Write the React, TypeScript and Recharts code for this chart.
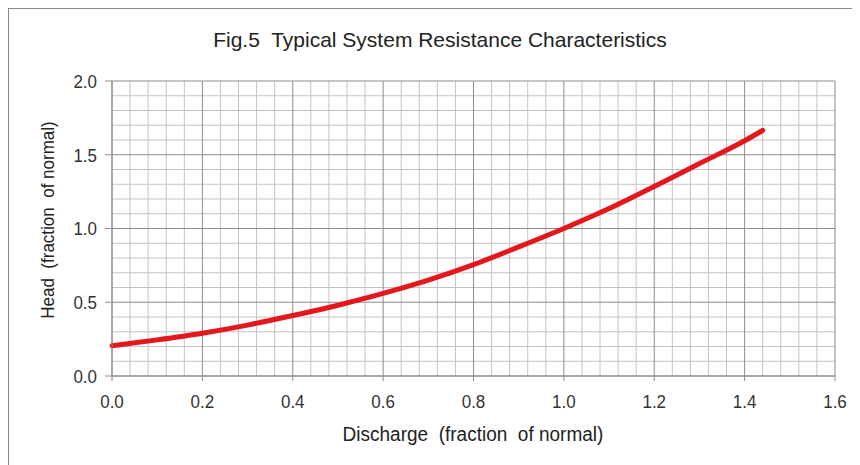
import React from "react";
import { LineChart, Line, XAxis, YAxis, ReferenceLine } from "recharts";

const discharge = [0, 0.1, 0.2, 0.3, 0.4, 0.5, 0.6, 0.7, 0.8, 0.9, 1.0, 1.1, 1.2, 1.3, 1.4, 1.44];
const head = [0.205, 0.245, 0.29, 0.345, 0.41, 0.48, 0.56, 0.65, 0.755, 0.875, 1.0, 1.135, 1.285, 1.44, 1.595, 1.665];

const xTicks = [0, 0.2, 0.4, 0.6, 0.8, 1.0, 1.2, 1.4, 1.6];
const yTicks = [0, 0.5, 1.0, 1.5, 2.0];
const xMinor = [
  0.04, 0.08, 0.12, 0.16, 0.24, 0.28, 0.32, 0.36, 0.44, 0.48, 0.52, 0.56,
  0.64, 0.68, 0.72, 0.76, 0.84, 0.88, 0.92, 0.96, 1.04, 1.08, 1.12, 1.16,
  1.24, 1.28, 1.32, 1.36, 1.44, 1.48, 1.52, 1.56,
];
const yMinor = [0.1, 0.2, 0.3, 0.4, 0.6, 0.7, 0.8, 0.9, 1.1, 1.2, 1.3, 1.4, 1.6, 1.7, 1.8, 1.9];

const title = "Fig.5  Typical System Resistance Characteristics";
const xLabel = "Discharge  (fraction  of normal)";
const yLabel = "Head  (fraction  of normal)";

const data = discharge.map((q, i) => ({ q, h: head[i] }));

const FONT = "'Liberation Sans', Arial, sans-serif";
const MINOR = "#c4c4c4";
const MAJOR = "#8c8c8c";
const SY = 1.12;

function XTick(props: any) {
  const { x, y, payload } = props;
  return (
    <g transform={`translate(${x},${y}) scale(1,${SY})`}>
      <text x={0} y={0} dy="0.71em" textAnchor="middle" fill="#333" fontSize={17} fontFamily={FONT}>
        {Number(payload.value).toFixed(1)}
      </text>
    </g>
  );
}

function YTick(props: any) {
  const { x, y, payload } = props;
  return (
    <g transform={`translate(${x},${y}) scale(1,${SY})`}>
      <text x={0} y={0} dy="0.355em" textAnchor="end" fill="#333" fontSize={17} fontFamily={FONT}>
        {Number(payload.value).toFixed(1)}
      </text>
    </g>
  );
}

export default function App() {
  return (
    <div style={{ position: "relative", width: 852, height: 457, fontFamily: FONT, background: "#fff" }}>
      <div
        style={{
          position: "absolute",
          left: 0,
          top: 0,
          width: 852,
          height: 457,
          borderTop: "1px solid #8a8a8a",
          borderLeft: "1px solid #8a8a8a",
          boxSizing: "border-box",
          pointerEvents: "none",
        }}
      />
      <div
        style={{
          position: "absolute",
          left: 0,
          width: 864,
          top: 20,
          textAlign: "center",
          fontSize: 21,
          color: "#222",
          whiteSpace: "pre",
          lineHeight: "24px",
        }}
      >
        {title}
      </div>
      <LineChart
        width={852}
        height={457}
        data={data}
        margin={{ top: 73, right: 25, bottom: 49, left: 0 }}
      >
        {xMinor.map((v) => (
          <ReferenceLine key={"xm" + v} x={v} stroke={MINOR} strokeWidth={1} />
        ))}
        {yMinor.map((v) => (
          <ReferenceLine key={"ym" + v} y={v} stroke={MINOR} strokeWidth={1} />
        ))}
        {xTicks.map((v) => (
          <ReferenceLine key={"xM" + v} x={v} stroke={MAJOR} strokeWidth={1} />
        ))}
        {yTicks.map((v) => (
          <ReferenceLine key={"yM" + v} y={v} stroke={MAJOR} strokeWidth={1} />
        ))}
        <XAxis
          dataKey="q"
          type="number"
          domain={[0, 1.6]}
          ticks={xTicks}
          interval={0}
          height={40}
          tickSize={5}
          tickMargin={13}
          axisLine={{ stroke: MAJOR }}
          tickLine={{ stroke: MAJOR }}
          tick={<XTick />}
        />
        <YAxis
          type="number"
          domain={[0, 2]}
          ticks={yTicks}
          interval={0}
          width={104}
          tickSize={7}
          tickMargin={8}
          axisLine={{ stroke: MAJOR }}
          tickLine={{ stroke: MAJOR }}
          tick={<YTick />}
        />
        <Line
          type="monotone"
          dataKey="h"
          stroke="#e3171c"
          strokeWidth={5}
          strokeLinecap="round"
          dot={false}
          activeDot={false}
          isAnimationActive={false}
        />
      </LineChart>
      <div
        style={{
          position: "absolute",
          left: 265,
          width: 400,
          top: 415,
          textAlign: "center",
          fontSize: 19,
          color: "#222",
          whiteSpace: "pre",
          lineHeight: "24px",
          transform: "scaleY(1.08)",
        }}
      >
        {xLabel}
      </div>
      <div
        style={{
          position: "absolute",
          left: 40 - 150,
          top: 212 - 12,
          width: 300,
          textAlign: "center",
          fontSize: 17,
          color: "#222",
          whiteSpace: "pre",
          lineHeight: "24px",
          transform: "rotate(-90deg) scaleY(1.1)",
          transformOrigin: "150px 12px",
        }}
      >
        {yLabel}
      </div>
    </div>
  );
}
